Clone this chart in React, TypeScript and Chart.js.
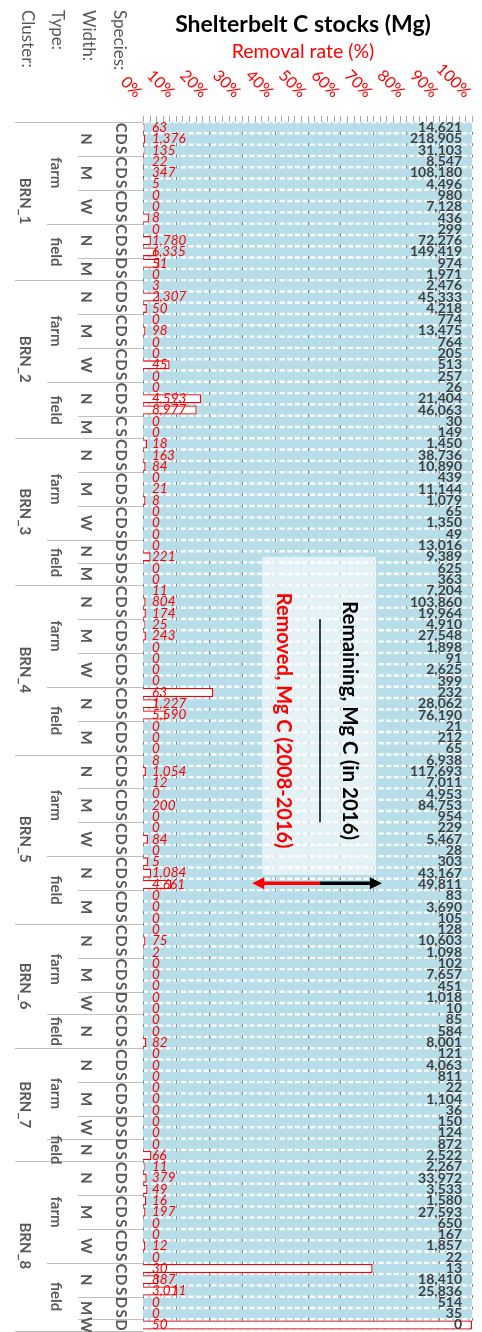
import React, { useEffect, useRef } from "react";
import { Chart, registerables } from "chart.js";

Chart.register(...registerables);

// ---------- DATA ----------
const clusters = [
  "BRN_1","BRN_1","BRN_1","BRN_1","BRN_1","BRN_1","BRN_1","BRN_1","BRN_1","BRN_1","BRN_1","BRN_1","BRN_1","BRN_1",
  "BRN_2","BRN_2","BRN_2","BRN_2","BRN_2","BRN_2","BRN_2","BRN_2","BRN_2","BRN_2","BRN_2","BRN_2","BRN_2","BRN_2",
  "BRN_3","BRN_3","BRN_3","BRN_3","BRN_3","BRN_3","BRN_3","BRN_3","BRN_3","BRN_3","BRN_3","BRN_3","BRN_3",
  "BRN_4","BRN_4","BRN_4","BRN_4","BRN_4","BRN_4","BRN_4","BRN_4","BRN_4","BRN_4","BRN_4","BRN_4","BRN_4","BRN_4","BRN_4",
  "BRN_5","BRN_5","BRN_5","BRN_5","BRN_5","BRN_5","BRN_5","BRN_5","BRN_5","BRN_5","BRN_5","BRN_5","BRN_5","BRN_5","BRN_5",
  "BRN_6","BRN_6","BRN_6","BRN_6","BRN_6","BRN_6","BRN_6","BRN_6","BRN_6","BRN_6","BRN_6",
  "BRN_7","BRN_7","BRN_7","BRN_7","BRN_7","BRN_7","BRN_7","BRN_7","BRN_7","BRN_7",
  "BRN_8","BRN_8","BRN_8","BRN_8","BRN_8","BRN_8","BRN_8","BRN_8","BRN_8","BRN_8","BRN_8","BRN_8","BRN_8","BRN_8","BRN_8",
];

const types = [
  "farm","farm","farm","farm","farm","farm","farm","farm","farm","field","field","field","field","field",
  "farm","farm","farm","farm","farm","farm","farm","farm","farm","field","field","field","field","field",
  "farm","farm","farm","farm","farm","farm","farm","farm","farm","field","field","field","field",
  "farm","farm","farm","farm","farm","farm","farm","farm","farm","field","field","field","field","field","field",
  "farm","farm","farm","farm","farm","farm","farm","farm","farm","field","field","field","field","field","field",
  "farm","farm","farm","farm","farm","farm","farm","farm","field","field","field",
  "farm","farm","farm","farm","farm","farm","farm","farm","field","field",
  "farm","farm","farm","farm","farm","farm","farm","farm","farm","field","field","field","field","field","field",
];

const widths = [
  "N","N","N","M","M","M","W","W","W","N","N","N","M","M",
  "N","N","N","M","M","M","W","W","W","N","N","N","M","M",
  "N","N","N","M","M","M","W","W","W","N","N","M","M",
  "N","N","N","M","M","M","W","W","W","N","N","N","M","M","M",
  "N","N","N","M","M","M","W","W","W","N","N","N","M","M","M",
  "N","N","N","M","M","M","W","W","N","N","N",
  "N","N","N","M","M","M","W","W","N","N",
  "N","N","N","M","M","M","W","W","W","N","N","N","M","M","W",
];

const species = [
  "C","D","S","C","D","S","C","D","S","C","D","S","D","S",
  "C","D","S","C","D","S","C","D","S","C","D","S","C","S",
  "C","D","S","C","D","S","C","D","S","D","S","D","S",
  "C","D","S","C","D","S","C","D","S","C","D","S","C","D","S",
  "C","D","S","C","D","S","C","D","S","C","D","S","C","D","S",
  "C","D","S","C","D","S","D","S","C","D","S",
  "C","D","S","C","D","S","D","S","D","S",
  "C","D","S","C","D","S","C","D","S","C","D","S","D","S","D",
];

// Removed, Mg C (2008-2016)
const removed = [
  63, 1376, 135, 22, 347, 5, 0, 0, 8, 0, 1780, 6335, 51, 0,
  3, 2307, 50, 0, 98, 0, 0, 45, 0, 0, 4593, 8977, 0, 0,
  18, 163, 84, 0, 21, 8, 0, 0, 0, 0, 221, 0, 0,
  11, 804, 174, 25, 243, 0, 0, 0, 0, 63, 1227, 5590, 0, 0, 0,
  8, 1054, 12, 0, 200, 0, 0, 84, 0, 5, 1084, 4661, 0, 0, 0,
  0, 75, 2, 0, 0, 0, 0, 0, 0, 0, 82,
  0, 0, 0, 0, 0, 0, 0, 0, 0, 66,
  11, 379, 49, 16, 197, 0, 0, 12, 0, 30, 887, 3011, 0, 0, 50,
];

// Remaining, Mg C (in 2016)
const remaining = [
  14621, 218905, 31103, 8547, 108180, 4496, 980, 7128, 436, 299, 72276, 149419, 974, 1971,
  2476, 45333, 4218, 774, 13475, 764, 205, 513, 257, 26, 21404, 46063, 30, 149,
  1450, 38736, 10890, 439, 11144, 1079, 65, 1350, 49, 13016, 9389, 625, 363,
  7204, 103860, 19964, 4910, 27548, 1898, 91, 2625, 399, 232, 28062, 76190, 21, 212, 65,
  6938, 117693, 7011, 4953, 84753, 954, 229, 5467, 28, 303, 43167, 49811, 83, 3690, 105,
  128, 10603, 1098, 102, 7657, 451, 1018, 10, 85, 584, 8001,
  121, 4063, 811, 22, 1104, 36, 150, 124, 872, 2522,
  2267, 33972, 3533, 1580, 27593, 650, 167, 1857, 22, 13, 18410, 25836, 514, 35, 0,
];

const xTicks = [0, 10, 20, 30, 40, 50, 60, 70, 80, 90, 100];
const trackValue = 100;

const titleText = "Shelterbelt C stocks (Mg)";
const subtitleText = "Removal rate (%)";
const headerLabels = ["Cluster:", "Type:", "Width:", "Species:"];
const remainingNote = "Remaining, Mg C (in 2016)";
const removedNote = "Removed, Mg C (2008-2016)";

// ---------- derived ----------
const labels = species.map((s, i) => `${clusters[i]} ${types[i]} ${widths[i]} ${s}`);
const rates = removed.map((r, i) => {
  const tot = r + remaining[i];
  return tot > 0 ? (r / tot) * 100 : 0;
});

const FONT = "Lato, 'Noto Sans', sans-serif";
const GRAY = "#595959";
const RED = "#ff0000";
const BLUE = "#b7dde8";

const fmt = (v: number) => v.toLocaleString("en-US");

function rotText(ctx: CanvasRenderingContext2D, text: string, x: number, y: number, align: CanvasTextAlign) {
  ctx.save();
  ctx.translate(x, y);
  ctx.rotate(Math.PI / 2);
  ctx.textAlign = align;
  ctx.textBaseline = "middle";
  ctx.fillText(text, 0, 0);
  ctx.restore();
}

const overlayPlugin = {
  id: "overlay",
  afterDatasetDraw(chart: any, args: any) {
    if (args.index !== 1) return;
    const { ctx } = chart;
    const xs = chart.scales.x;
    const ys = chart.scales.y;
    const n = labels.length;
    const pitch = ys.getPixelForValue(1) - ys.getPixelForValue(0);
    const bnd = (i: number) => ys.getPixelForValue(0) - pitch / 2 + i * pitch;
    const x0 = xs.getPixelForValue(0);
    const x1 = xs.getPixelForValue(100);
    ctx.save();
    ctx.strokeStyle = "#ffffff";
    ctx.lineWidth = 2.4;
    ctx.setLineDash([5, 2.6]);
    for (let i = 0; i <= n; i++) {
      const yy = bnd(i);
      ctx.beginPath();
      ctx.moveTo(x0, yy);
      ctx.lineTo(x1, yy);
      ctx.stroke();
    }
    ctx.setLineDash([]);
    ctx.strokeStyle = "#808080";
    ctx.lineWidth = 1;
    for (const v of xTicks) {
      const xx = Math.round(xs.getPixelForValue(v)) + 0.5;
      for (let i = 1; i < n; i++) {
        const yy = bnd(i);
        ctx.beginPath();
        ctx.moveTo(xx, yy - 1.5);
        ctx.lineTo(xx, yy + 1.5);
        ctx.stroke();
      }
    }
    ctx.restore();
  },
  afterDatasetsDraw(chart: any) {
    const { ctx, chartArea } = chart;
    const xs = chart.scales.x;
    const ys = chart.scales.y;
    const n = labels.length;
    const pitch = ys.getPixelForValue(1) - ys.getPixelForValue(0);
    const top = ys.getPixelForValue(0) - pitch / 2;
    const yAt = (p: number) => top + p * pitch;
    const x0 = xs.getPixelForValue(0);
    const x100 = xs.getPixelForValue(100);

    ctx.save();
    // annotation box
    ctx.fillStyle = "rgba(255,255,255,0.62)";
    const bx0 = xs.getPixelForValue(36.2);
    const bx1 = xs.getPixelForValue(70.8);
    ctx.fillRect(bx0, yAt(38.5), bx1 - bx0, yAt(66.66) - yAt(38.5));

    // vertical divider line
    const lx = xs.getPixelForValue(53.8);
    ctx.strokeStyle = "#000";
    ctx.lineWidth = 1.5;
    ctx.beginPath();
    ctx.moveTo(lx, yAt(44));
    ctx.lineTo(lx, yAt(62));
    ctx.stroke();

    // notes
    ctx.font = `bold 20.5px ${FONT}`;
    ctx.fillStyle = "#000";
    rotText(ctx, remainingNote, xs.getPixelForValue(62.9), yAt(53), "center");
    ctx.font = `bold 20px ${FONT}`;
    ctx.fillStyle = RED;
    rotText(ctx, removedNote, xs.getPixelForValue(42.6), yAt(53), "center");

    // arrows
    const ay = yAt(67.4);
    const drawArrow = (from: number, to: number, color: string) => {
      const dir = Math.sign(to - from);
      ctx.strokeStyle = color;
      ctx.fillStyle = color;
      ctx.lineWidth = 3.5;
      ctx.beginPath();
      ctx.moveTo(from, ay);
      ctx.lineTo(to - dir * 10, ay);
      ctx.stroke();
      ctx.beginPath();
      ctx.moveTo(to, ay);
      ctx.lineTo(to - dir * 12, ay - 6);
      ctx.lineTo(to - dir * 12, ay + 6);
      ctx.closePath();
      ctx.fill();
    };
    drawArrow(lx, xs.getPixelForValue(33.2), RED);
    drawArrow(lx, xs.getPixelForValue(72.6), "#000");

    // value labels
    ctx.textBaseline = "middle";
    for (let i = 0; i < n; i++) {
      const yy = ys.getPixelForValue(i);
      ctx.font = `italic 13.5px ${FONT}`;
      ctx.fillStyle = RED;
      ctx.textAlign = "left";
      ctx.fillText(fmt(removed[i]), x0 + 9, yy);
      ctx.font = `bold 14px ${FONT}`;
      ctx.fillStyle = "#404040";
      ctx.textAlign = "right";
      ctx.fillText(fmt(remaining[i]), x100 - 10, yy);
    }

    // top axis ticks
    ctx.strokeStyle = "#a6a6a6";
    ctx.lineWidth = 1;
    for (let v = 0; v <= 100; v += 2) {
      const xx = Math.round(xs.getPixelForValue(v)) + 0.5;
      ctx.beginPath();
      ctx.moveTo(xx, chartArea.top - 6);
      ctx.lineTo(xx, chartArea.top);
      ctx.stroke();
    }
    ctx.font = `16px ${FONT}`;
    ctx.fillStyle = RED;
    for (const v of xTicks) {
      ctx.save();
      ctx.translate(xs.getPixelForValue(v) - 4, 95);
      ctx.rotate(Math.PI / 4);
      ctx.textAlign = "right";
      ctx.textBaseline = "middle";
      ctx.fillText(`${v}%`, 0, 0);
      ctx.restore();
    }

    // titles
    ctx.textAlign = "center";
    ctx.textBaseline = "middle";
    ctx.fillStyle = "#000";
    ctx.font = `bold 23px ${FONT}`;
    ctx.fillText(titleText, 303, 25);
    ctx.fillStyle = RED;
    ctx.font = `19.5px ${FONT}`;
    ctx.fillText(subtitleText, 303, 52);

    // header labels
    ctx.fillStyle = GRAY;
    ctx.font = `17px ${FONT}`;
    const headerX = [27, 57, 88, 119];
    headerLabels.forEach((h, k) => rotText(ctx, h, headerX[k], 10, "left"));

    // hierarchical category labels & separators
    ctx.strokeStyle = "#bfbfbf";
    ctx.lineWidth = 1;
    const sepLine = (i: number, fromX: number) => {
      const yy = Math.round(yAt(i)) + 0.5;
      ctx.beginPath();
      ctx.moveTo(fromX, yy);
      ctx.lineTo(x0, yy);
      ctx.stroke();
    };
    sepLine(0, 15);
    sepLine(n, 15);
    for (let i = 1; i < n; i++) {
      if (clusters[i] !== clusters[i - 1]) sepLine(i, 15);
      else if (types[i] !== types[i - 1]) sepLine(i, 47);
      else if (widths[i] !== widths[i - 1]) sepLine(i, 78);
    }

    const groupLabels = (keyFn: (i: number) => string, textFn: (i: number) => string, x: number, font: string) => {
      ctx.font = font;
      let start = 0;
      for (let i = 1; i <= n; i++) {
        if (i === n || keyFn(i) !== keyFn(start)) {
          rotText(ctx, textFn(start), x, yAt((start + i) / 2), "center");
          start = i;
        }
      }
    };
    ctx.fillStyle = GRAY;
    groupLabels((i) => clusters[i], (i) => clusters[i], 25, `bold 15px ${FONT}`);
    groupLabels((i) => clusters[i] + types[i], (i) => types[i], 56, `bold 15px ${FONT}`);
    groupLabels((i) => clusters[i] + types[i] + widths[i], (i) => widths[i], 86, `bold 15px ${FONT}`);
    ctx.font = `bold 15px ${FONT}`;
    for (let i = 0; i < n; i++) {
      rotText(ctx, species[i], 121, ys.getPixelForValue(i), "center");
    }
    ctx.restore();
  },
};

export default function App() {
  const ref = useRef<HTMLCanvasElement | null>(null);
  useEffect(() => {
    document.body.style.margin = "0";
    if (!ref.current) return;
    const chart = new Chart(ref.current, {
      type: "bar",
      data: {
        labels,
        datasets: [
          {
            label: "Removal rate (%)",
            data: rates,
            backgroundColor: "#ffffff",
            borderColor: RED,
            borderWidth: 1.3,
            barPercentage: 0.8,
            categoryPercentage: 1,
            grouped: false,
            order: 0,
          } as any,
          {
            label: "track",
            data: labels.map(() => trackValue),
            backgroundColor: BLUE,
            borderWidth: 0,
            barPercentage: 1,
            categoryPercentage: 1,
            grouped: false,
            order: 1,
          } as any,
        ],
      },
      options: {
        animation: false,
        responsive: false,
        indexAxis: "y",
        layout: { padding: { left: 143, right: 10, top: 122, bottom: 1.4 } },
        scales: {
          x: { display: false, min: 0, max: 100 },
          y: { display: false },
        },
        plugins: {
          legend: { display: false },
          tooltip: { enabled: false },
        },
      },
      plugins: [overlayPlugin],
    });
    return () => chart.destroy();
  }, []);
  return (
    <canvas
      ref={ref}
      width={482}
      height={1332}
      style={{ display: "block", width: "482px", height: "1332px" }}
    />
  );
}
